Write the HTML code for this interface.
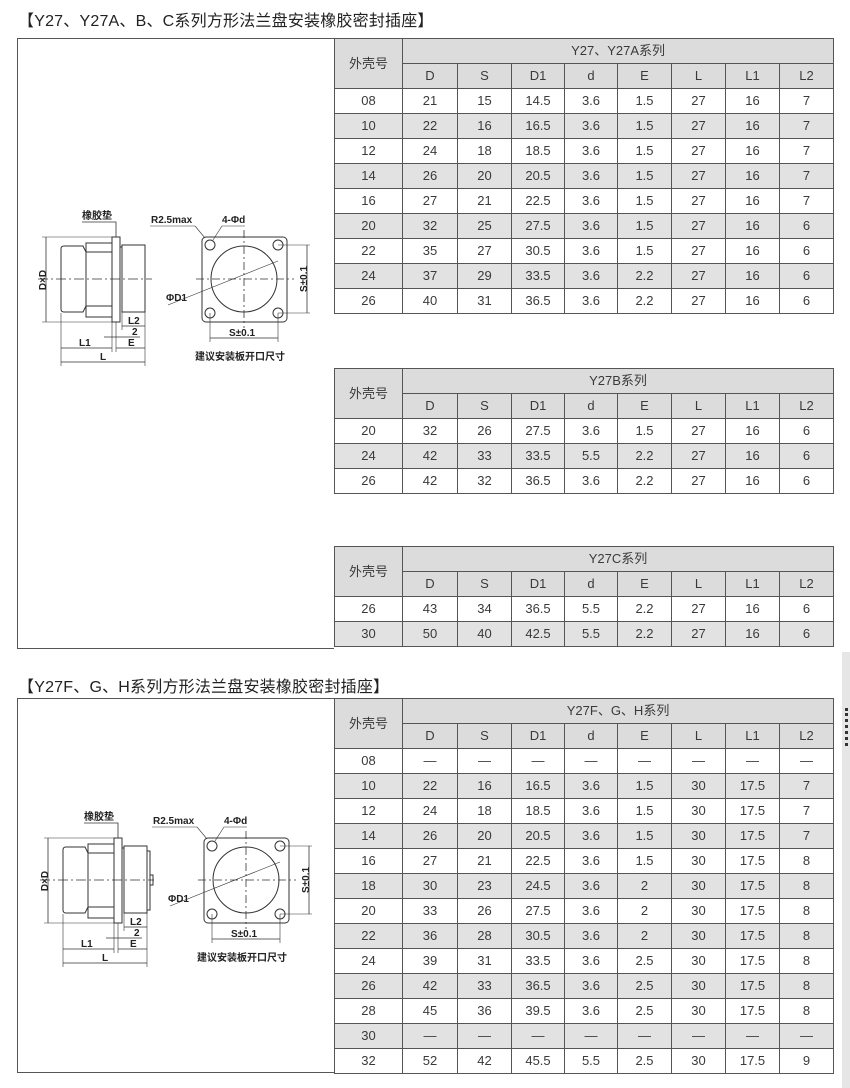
<!DOCTYPE html>
<html><head><meta charset="utf-8"><style>
body{margin:0;width:850px;height:1088px;background:#fff;position:relative;overflow:hidden;font-family:"Liberation Sans","Noto Sans CJK SC",sans-serif;color:#333}
.t{position:absolute;left:334px;border-collapse:collapse;table-layout:fixed;font-size:13px;width:499px;color:#3a3a3a}
.t td{border:1px solid #555;text-align:center;padding:0;height:24px;line-height:14px;overflow:hidden;white-space:nowrap}
.t .h{background:#dcdcdc}
.t tr.g td{background:#e2e2e2}
.ttl{position:absolute;left:18px;font-size:16px;color:#222;letter-spacing:0.2px}
.box{position:absolute;left:17px;width:317px;border:1px solid #555;border-right:none;box-sizing:border-box}
svg text{font-family:"Liberation Sans","Noto Sans CJK SC",sans-serif;font-weight:bold;font-size:10px;fill:#222}
</style></head><body>
<div class="ttl" style="top:7px">【Y27、Y27A、B、C系列方形法兰盘安装橡胶密封插座】</div>
<div class="box" style="top:38px;height:611px"></div>

<table class="t" style="top:38px">
<colgroup><col style="width:68px"><col style="width:55px"><col style="width:54px"><col style="width:53px"><col style="width:53px"><col style="width:54px"><col style="width:54px"><col style="width:54px"><col style="width:54px"></colgroup>
<tr><td class="h" rowspan="2">外壳号</td><td class="h" colspan="8">Y27、Y27A系列</td></tr>
<tr><td class="h">D</td><td class="h">S</td><td class="h">D1</td><td class="h">d</td><td class="h">E</td><td class="h">L</td><td class="h">L1</td><td class="h">L2</td></tr>
<tr><td>08</td><td>21</td><td>15</td><td>14.5</td><td>3.6</td><td>1.5</td><td>27</td><td>16</td><td>7</td></tr>
<tr class="g"><td>10</td><td>22</td><td>16</td><td>16.5</td><td>3.6</td><td>1.5</td><td>27</td><td>16</td><td>7</td></tr>
<tr><td>12</td><td>24</td><td>18</td><td>18.5</td><td>3.6</td><td>1.5</td><td>27</td><td>16</td><td>7</td></tr>
<tr class="g"><td>14</td><td>26</td><td>20</td><td>20.5</td><td>3.6</td><td>1.5</td><td>27</td><td>16</td><td>7</td></tr>
<tr><td>16</td><td>27</td><td>21</td><td>22.5</td><td>3.6</td><td>1.5</td><td>27</td><td>16</td><td>7</td></tr>
<tr class="g"><td>20</td><td>32</td><td>25</td><td>27.5</td><td>3.6</td><td>1.5</td><td>27</td><td>16</td><td>6</td></tr>
<tr><td>22</td><td>35</td><td>27</td><td>30.5</td><td>3.6</td><td>1.5</td><td>27</td><td>16</td><td>6</td></tr>
<tr class="g"><td>24</td><td>37</td><td>29</td><td>33.5</td><td>3.6</td><td>2.2</td><td>27</td><td>16</td><td>6</td></tr>
<tr><td>26</td><td>40</td><td>31</td><td>36.5</td><td>3.6</td><td>2.2</td><td>27</td><td>16</td><td>6</td></tr>
</table>

<table class="t" style="top:368px">
<colgroup><col style="width:68px"><col style="width:55px"><col style="width:54px"><col style="width:53px"><col style="width:53px"><col style="width:54px"><col style="width:54px"><col style="width:54px"><col style="width:54px"></colgroup>
<tr><td class="h" rowspan="2">外壳号</td><td class="h" colspan="8">Y27B系列</td></tr>
<tr><td class="h">D</td><td class="h">S</td><td class="h">D1</td><td class="h">d</td><td class="h">E</td><td class="h">L</td><td class="h">L1</td><td class="h">L2</td></tr>
<tr><td>20</td><td>32</td><td>26</td><td>27.5</td><td>3.6</td><td>1.5</td><td>27</td><td>16</td><td>6</td></tr>
<tr class="g"><td>24</td><td>42</td><td>33</td><td>33.5</td><td>5.5</td><td>2.2</td><td>27</td><td>16</td><td>6</td></tr>
<tr><td>26</td><td>42</td><td>32</td><td>36.5</td><td>3.6</td><td>2.2</td><td>27</td><td>16</td><td>6</td></tr>
</table>

<table class="t" style="top:546px">
<colgroup><col style="width:68px"><col style="width:55px"><col style="width:54px"><col style="width:53px"><col style="width:53px"><col style="width:54px"><col style="width:54px"><col style="width:54px"><col style="width:54px"></colgroup>
<tr><td class="h" rowspan="2">外壳号</td><td class="h" colspan="8">Y27C系列</td></tr>
<tr><td class="h">D</td><td class="h">S</td><td class="h">D1</td><td class="h">d</td><td class="h">E</td><td class="h">L</td><td class="h">L1</td><td class="h">L2</td></tr>
<tr><td>26</td><td>43</td><td>34</td><td>36.5</td><td>5.5</td><td>2.2</td><td>27</td><td>16</td><td>6</td></tr>
<tr class="g"><td>30</td><td>50</td><td>40</td><td>42.5</td><td>5.5</td><td>2.2</td><td>27</td><td>16</td><td>6</td></tr>
</table>

<div class="ttl" style="top:673px">【Y27F、G、H系列方形法兰盘安装橡胶密封插座】</div>
<div class="box" style="top:698px;height:375px"></div>

<table class="t" style="top:698px">
<colgroup><col style="width:68px"><col style="width:55px"><col style="width:54px"><col style="width:53px"><col style="width:53px"><col style="width:54px"><col style="width:54px"><col style="width:54px"><col style="width:54px"></colgroup>
<tr><td class="h" rowspan="2">外壳号</td><td class="h" colspan="8">Y27F、G、H系列</td></tr>
<tr><td class="h">D</td><td class="h">S</td><td class="h">D1</td><td class="h">d</td><td class="h">E</td><td class="h">L</td><td class="h">L1</td><td class="h">L2</td></tr>
<tr><td>08</td><td>—</td><td>—</td><td>—</td><td>—</td><td>—</td><td>—</td><td>—</td><td>—</td></tr>
<tr class="g"><td>10</td><td>22</td><td>16</td><td>16.5</td><td>3.6</td><td>1.5</td><td>30</td><td>17.5</td><td>7</td></tr>
<tr><td>12</td><td>24</td><td>18</td><td>18.5</td><td>3.6</td><td>1.5</td><td>30</td><td>17.5</td><td>7</td></tr>
<tr class="g"><td>14</td><td>26</td><td>20</td><td>20.5</td><td>3.6</td><td>1.5</td><td>30</td><td>17.5</td><td>7</td></tr>
<tr><td>16</td><td>27</td><td>21</td><td>22.5</td><td>3.6</td><td>1.5</td><td>30</td><td>17.5</td><td>8</td></tr>
<tr class="g"><td>18</td><td>30</td><td>23</td><td>24.5</td><td>3.6</td><td>2</td><td>30</td><td>17.5</td><td>8</td></tr>
<tr><td>20</td><td>33</td><td>26</td><td>27.5</td><td>3.6</td><td>2</td><td>30</td><td>17.5</td><td>8</td></tr>
<tr class="g"><td>22</td><td>36</td><td>28</td><td>30.5</td><td>3.6</td><td>2</td><td>30</td><td>17.5</td><td>8</td></tr>
<tr><td>24</td><td>39</td><td>31</td><td>33.5</td><td>3.6</td><td>2.5</td><td>30</td><td>17.5</td><td>8</td></tr>
<tr class="g"><td>26</td><td>42</td><td>33</td><td>36.5</td><td>3.6</td><td>2.5</td><td>30</td><td>17.5</td><td>8</td></tr>
<tr><td>28</td><td>45</td><td>36</td><td>39.5</td><td>3.6</td><td>2.5</td><td>30</td><td>17.5</td><td>8</td></tr>
<tr class="g"><td>30</td><td>—</td><td>—</td><td>—</td><td>—</td><td>—</td><td>—</td><td>—</td><td>—</td></tr>
<tr><td>32</td><td>52</td><td>42</td><td>45.5</td><td>5.5</td><td>2.5</td><td>30</td><td>17.5</td><td>9</td></tr>
</table>

<div style="position:absolute;left:842px;top:652px;width:8px;height:436px;background:#e6e6e6"></div>
<div style="position:absolute;left:845px;top:708px;width:3px;height:38px;border-left:3px dotted #333"></div>

<svg width="850" height="1088" style="position:absolute;left:0;top:0">
<defs>
<g id="dw" stroke="#333" fill="none" stroke-width="1">
  <path d="M61 249 Q61 246 64 246 L83 246 L86 252 L86 306 L83 312 L64 312 Q61 312 61 309 Z"/>
  <path d="M86 252 L112 252 M86 306 L112 306"/>
  <rect x="86" y="243" width="26" height="74"/>
  <rect x="112" y="237" width="8" height="85"/>
  <rect x="122" y="245" width="23" height="67"/>
  <line x1="120" y1="247" x2="122" y2="247"/>
  <line x1="38" y1="279" x2="152" y2="279" stroke-dasharray="10,3,2,3" stroke-width="0.8"/>
  <polyline points="82,222 116,222 116,237" stroke-width="0.8"/>
  <line x1="46" y1="237" x2="46" y2="322" stroke-width="0.8"/>
  <line x1="42" y1="237" x2="112" y2="237" stroke-width="0.6"/>
  <line x1="42" y1="322" x2="112" y2="322" stroke-width="0.6"/>
  <line x1="61" y1="313" x2="61" y2="366" stroke-width="0.6"/>
  <line x1="145" y1="312" x2="145" y2="366" stroke-width="0.6"/>
  <line x1="112" y1="322" x2="112" y2="352" stroke-width="0.6"/>
  <line x1="116" y1="322" x2="116" y2="352" stroke-width="0.6"/>
  <line x1="122" y1="312" x2="122" y2="330" stroke-width="0.6"/>
  <line x1="61" y1="362" x2="145" y2="362" stroke-width="0.8"/>
  <line x1="61" y1="348" x2="112" y2="348" stroke-width="0.8"/>
  <line x1="116" y1="348" x2="145" y2="348" stroke-width="0.8"/>
  <line x1="122" y1="326" x2="145" y2="326" stroke-width="0.8"/>
  <line x1="104" y1="337" x2="140" y2="337" stroke-width="0.8"/>
  <rect x="202" y="237" width="85" height="85" rx="4"/>
  <circle cx="244" cy="279" r="33"/>
  <circle cx="210" cy="245" r="5"/><circle cx="278" cy="245" r="5"/>
  <circle cx="210" cy="313" r="5"/><circle cx="278" cy="313" r="5"/>
  <line x1="196" y1="279" x2="294" y2="279" stroke-dasharray="8,3,2,3" stroke-width="0.8"/>
  <line x1="244" y1="230" x2="244" y2="328" stroke-dasharray="8,3,2,3" stroke-width="0.8"/>
  <line x1="278" y1="245" x2="310" y2="245" stroke-width="0.6"/>
  <line x1="278" y1="313" x2="310" y2="313" stroke-width="0.6"/>
  <line x1="307" y1="245" x2="307" y2="313" stroke-width="0.8"/>
  <line x1="210" y1="313" x2="210" y2="342" stroke-width="0.6"/>
  <line x1="278" y1="313" x2="278" y2="342" stroke-width="0.6"/>
  <line x1="210" y1="338" x2="278" y2="338" stroke-width="0.8"/>
  <line x1="168" y1="305" x2="278" y2="261" stroke-width="0.6"/>
  <line x1="150" y1="226" x2="195" y2="226" stroke-width="0.6"/>
  <line x1="195" y1="226" x2="205" y2="238" stroke-width="0.6"/>
  <line x1="222" y1="226" x2="245" y2="226" stroke-width="0.6"/>
  <line x1="222" y1="226" x2="213" y2="240" stroke-width="0.6"/>
</g>
<g id="tx">
  <text x="82" y="219">橡胶垫</text>
  <text x="151" y="223">R2.5max</text>
  <text x="222" y="223">4-Φd</text>
  <text x="42" y="284" text-anchor="middle" transform="rotate(-90 42 280)">D×D</text>
  <text x="79" y="346">L1</text>
  <text x="100" y="360">L</text>
  <text x="128" y="324">L2</text>
  <text x="132" y="335">2</text>
  <text x="128" y="346">E</text>
  <text x="166" y="301">ΦD1</text>
  <text x="303" y="283" text-anchor="middle" transform="rotate(-90 303 279)">S±0.1</text>
  <text x="229" y="336">S±0.1</text>
  <text x="195" y="360">建议安装板开口尺寸</text>
</g>
</defs>
<use href="#dw"/><use href="#tx"/>
<g transform="translate(2,601)"><use href="#dw"/><use href="#tx"/>
<path d="M145 250 L148 250 L148 309 L145 309 M148 274 L151 274 L151 284 L148 284" stroke="#333" fill="none"/></g>
</svg>
</body></html>
